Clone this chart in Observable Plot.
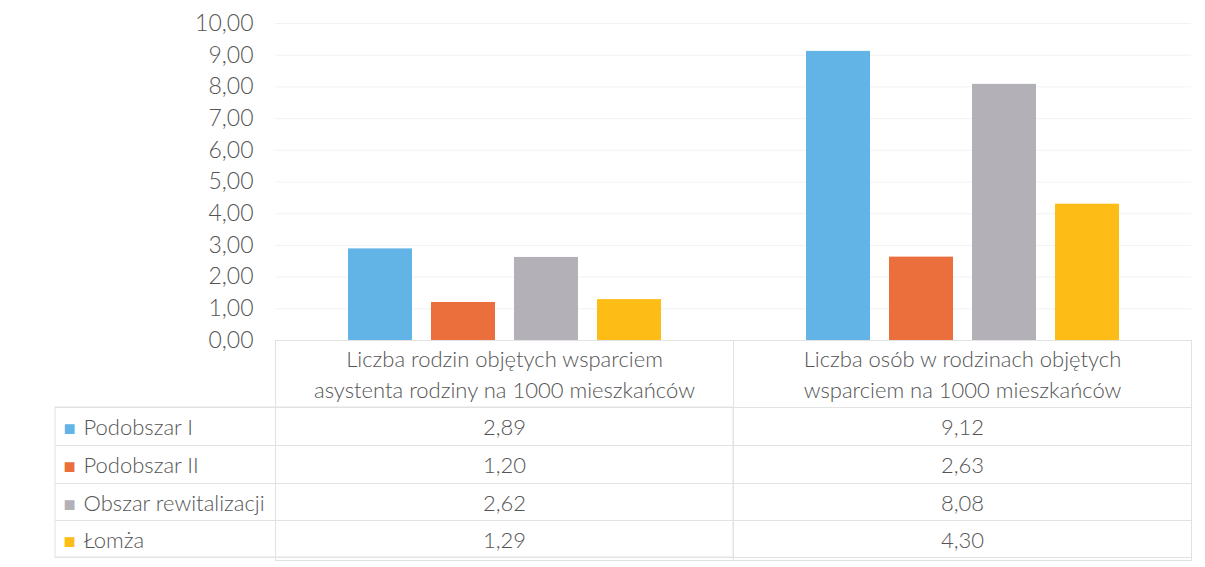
<!DOCTYPE html>
<html>
<head>
<meta charset="utf-8">
<script src="https://cdn.jsdelivr.net/npm/d3@7"></script>
<script src="https://cdn.jsdelivr.net/npm/@observablehq/plot@0.6"></script>
<style>
  html, body { margin: 0; padding: 0; background: #fff; }
</style>
</head>
<body>
<div id="chart"></div>
<script>
const categories = [
  "Liczba rodzin objętych wsparciem\nasystenta rodziny na 1000 mieszkańców",
  "Liczba osób w rodzinach objętych\nwsparciem na 1000 mieszkańców"
];
const series = ["Podobszar I", "Podobszar II", "Obszar rewitalizacji", "Łomża"];
const valuesFamilies = [2.89, 1.20, 2.62, 1.29];
const valuesPersons = [9.12, 2.63, 8.08, 4.30];
const colors = ["#62b3e6", "#ea6f3c", "#b4b0b8", "#fdbc16"];
const yTicks = [0, 1, 2, 3, 4, 5, 6, 7, 8, 9, 10];

const valuesByCategory = [valuesFamilies, valuesPersons];
const data = categories.flatMap((c, ci) =>
  series.map((s, si) => ({category: c, series: s, value: valuesByCategory[ci][si]}))
);
const fmt = v => v.toFixed(2).replace(".", ",");

const lineColor = "#e2e2e2";
const textColor = "#555555";
const rowDy = [87, 125, 163, 200];
const ruleDy = [67, 105, 143, 180, 217];

const marks = [
  Plot.ruleY(yTicks.filter(t => t > 0), {stroke: "#f2f2f2"}),
  Plot.axisY(yTicks, {tickFormat: fmt, tickSize: 0, tickPadding: 22, fontSize: 23, label: null, fill: textColor}),
  Plot.barY(data, {fx: "category", x: "series", y: "value", fill: "series"}),
  Plot.ruleY([0], {stroke: "#d9d9d9"}),
  // table frame per category column
  Plot.frame({stroke: lineColor, insetTop: 317, insetBottom: -220}),
  // legend column box
  Plot.rect([0], {fx: () => categories[0], insetLeft: -220, insetTop: 384, insetBottom: -217, fill: "none", stroke: lineColor}),
  // category labels
  Plot.text(categories, {fx: d => d, text: d => d, frameAnchor: "bottom", lineAnchor: "middle", dy: 32, lineHeight: 1.4, fill: textColor}),
];
ruleDy.forEach(dy => {
  marks.push(Plot.ruleY([0], {fx: () => categories[0], dy, insetLeft: -220, stroke: lineColor}));
  marks.push(Plot.ruleY([0], {fx: () => categories[1], dy, stroke: lineColor}));
});
series.forEach((s, i) => {
  marks.push(Plot.text(data.filter(d => d.series === s), {fx: "category", text: d => fmt(d.value), frameAnchor: "bottom", lineAnchor: "middle", dy: rowDy[i], fill: textColor}));
  marks.push(Plot.text([s], {fx: () => categories[0], text: d => "■", frameAnchor: "bottom-left", lineAnchor: "middle", textAnchor: "start", dx: -212, dy: rowDy[i] + 1, fill: colors[i], fontFamily: "DejaVu Sans", fontSize: 20}));
  marks.push(Plot.text([s], {fx: () => categories[0], text: d => d, frameAnchor: "bottom-left", lineAnchor: "middle", textAnchor: "start", dx: -192, dy: rowDy[i], fill: textColor}));
});

const chart = Plot.plot({
  width: 1205,
  height: 567,
  marginLeft: 275,
  marginRight: 14,
  marginTop: 23,
  marginBottom: 227,
  style: {fontFamily: "Lato, sans-serif", fontSize: "22px", fontWeight: 300, color: textColor, background: "#fff"},
  fx: {domain: categories, padding: 0, axis: null},
  x: {domain: series, paddingInner: 0.23, paddingOuter: 0.87, axis: null},
  y: {domain: [0, 10], axis: null},
  color: {domain: series, range: colors},
  marks
});
document.getElementById("chart").appendChild(chart);
</script>
</body>
</html>
